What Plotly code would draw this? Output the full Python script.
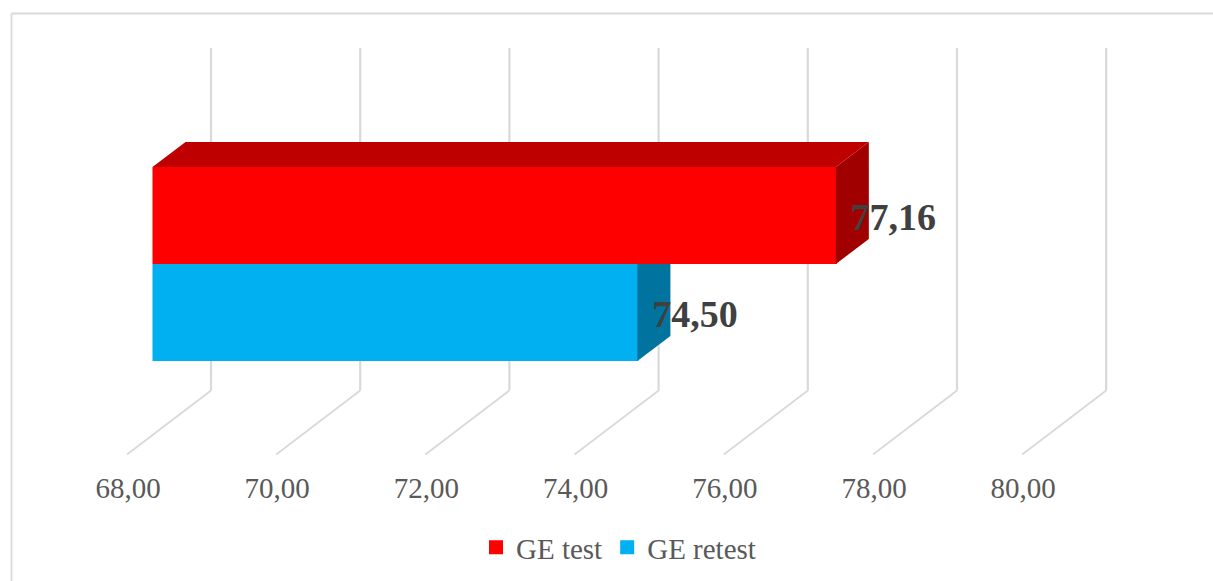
import plotly.graph_objects as go

# ---- data ----
series_names = ["GE test", "GE retest"]
series_values = [77.16, 74.50]
series_rows = [1, 0]
label_texts = ["77,16", "74,50"]
tick_values = [68, 70, 72, 74, 76, 78, 80]
tick_labels = ["68,00", "70,00", "72,00", "74,00", "76,00", "78,00", "80,00"]

front_colors = ["#FF0000", "#00B0F0"]
top_colors = ["#BF0000", "#0084B4"]
side_colors = ["#A00000", "#00749F"]

# ---- geometry of the pseudo-3D projection ----
W, H = 1213, 581
PX_X = 74.6          # px per axis unit
PX_Y = 97.0          # px per bar row
AXIS_LEFT = 127.0    # px of the axis start
ROW0_Y = 312.5       # px of the centre of row 0
PLOT_BOTTOM = 455.0
BASE = tick_values[0]

def dx(px): return px / PX_X
def dy(px): return px / PX_Y

BAR_SHIFT = dx(25.5)                 # bars stand part way into the floor
STROKE = dx(1)                       # half of the bar outline, kept inside the bar's start
BAR_DEPTH_X, BAR_DEPTH_Y = dx(33), dy(25)
WALL_X, WALL_Y = dx(84), dy(64)
FLOOR_Y = (ROW0_Y - 454.5) / PX_Y
WALL_TOP = (ROW0_Y - 48) / PX_Y

fig = go.Figure()

# front faces are real bars; side and top faces are derived from the values
for name, v, row, fc in zip(series_names, series_values, series_rows, front_colors):
    fig.add_trace(go.Bar(
        name=name, y=[row], x=[v - BASE - STROKE], base=[BASE + BAR_SHIFT + STROKE], width=[0.98],
        orientation="h", marker=dict(color=fc, line=dict(color=fc, width=2)),
        hoverinfo="skip",
    ))

for i, (v, row, sc) in enumerate(zip(series_values, series_rows, side_colors)):
    xe = v + BAR_SHIFT
    # a bar behind and above hides the upper part of the side face
    hidden = i > 0 and series_values[i - 1] > v
    top_back = row + .5 if hidden else row + .5 + BAR_DEPTH_Y
    fig.add_trace(go.Scatter(
        x=[xe, xe + BAR_DEPTH_X, xe + BAR_DEPTH_X, xe, xe],
        y=[row + .5, top_back, row - .5 + BAR_DEPTH_Y, row - .5, row + .5],
        mode="lines", fill="toself", fillcolor=sc, line=dict(width=0),
        showlegend=False, hoverinfo="skip",
    ))

# the top face of the upper bar only (the lower bar's top is hidden)
v, row, tc = series_values[0], series_rows[0], top_colors[0]
x0, xe = BASE + BAR_SHIFT, v + BAR_SHIFT
fig.add_trace(go.Scatter(
    x=[x0, x0 + BAR_DEPTH_X, xe + BAR_DEPTH_X, xe, x0],
    y=[row + .5, row + .5 + BAR_DEPTH_Y, row + .5 + BAR_DEPTH_Y, row + .5, row + .5],
    mode="lines", fill="toself", fillcolor=tc, line=dict(width=0),
    showlegend=False, hoverinfo="skip",
))

# data labels
fig.add_trace(go.Scatter(
    x=[v + BAR_SHIFT + dx(57.5) for v in series_values],
    y=[r - dy(4.5) for r in series_rows],
    text=label_texts, mode="text", textposition="middle center",
    textfont=dict(family="Liberation Serif", size=38, color="#404040", weight="bold"),
    showlegend=False, hoverinfo="skip",
))

# gridlines on the back wall and floor, behind the bars
shapes = []
for t in tick_values:
    shapes.append(dict(type="line", layer="below", xref="x", yref="y",
                       x0=t + WALL_X, x1=t + WALL_X, y0=FLOOR_Y + WALL_Y, y1=WALL_TOP,
                       line=dict(color="#D9D9D9", width=2.2)))
    shapes.append(dict(type="line", layer="below", xref="x", yref="y",
                       x0=t, x1=t + WALL_X, y0=FLOOR_Y, y1=FLOOR_Y + WALL_Y,
                       line=dict(color="#D9D9D9", width=1.8)))

# outer chart frame, open to the right and bottom
pb = PLOT_BOTTOM
BORDER = dict(color="#D9D9D9", width=1.8)
shapes.append(dict(type="line", xref="paper", yref="paper", layer="below",
                   x0=11.5 / W, x1=1, y0=1 - 13.5 / pb, y1=1 - 13.5 / pb, line=BORDER))
shapes.append(dict(type="line", xref="paper", yref="paper", layer="below",
                   x0=11.5 / W, x1=11.5 / W, y0=1 - 13.5 / pb, y1=1 - H / pb, line=BORDER))

fig.update_layout(
    width=W, height=H, autosize=False,
    margin=dict(l=0, r=0, t=0, b=H - PLOT_BOTTOM, pad=0),
    paper_bgcolor="white", plot_bgcolor="white",
    barmode="overlay", shapes=shapes,
    font=dict(family="Liberation Serif", color="#595959"),
    xaxis=dict(
        range=[BASE - AXIS_LEFT / PX_X, BASE + (W - AXIS_LEFT) / PX_X],
        tickmode="array", tickvals=tick_values, ticktext=tick_labels,
        ticks="outside", ticklen=7, tickcolor="rgba(0,0,0,0)", ticklabelshift=1,
        tickfont=dict(family="Liberation Serif", size=29, color="#595959"),
        showgrid=False, zeroline=False, showline=False,
    ),
    yaxis=dict(
        range=[(ROW0_Y - PLOT_BOTTOM) / PX_Y, ROW0_Y / PX_Y],
        showticklabels=False, ticks="", showgrid=False, zeroline=False, showline=False,
    ),
    legend=dict(
        orientation="h", x=476 / W, xanchor="left", y=1 - 522 / pb, yanchor="top",
        font=dict(family="Liberation Serif", size=29, color="#595959"),
        bgcolor="rgba(0,0,0,0)", itemclick=False, itemdoubleclick=False,
    ),
)

fig.write_html("out.html", config={"displayModeBar": False},
               post_script="document.body.style.margin='0';document.documentElement.style.overflow='hidden';")
